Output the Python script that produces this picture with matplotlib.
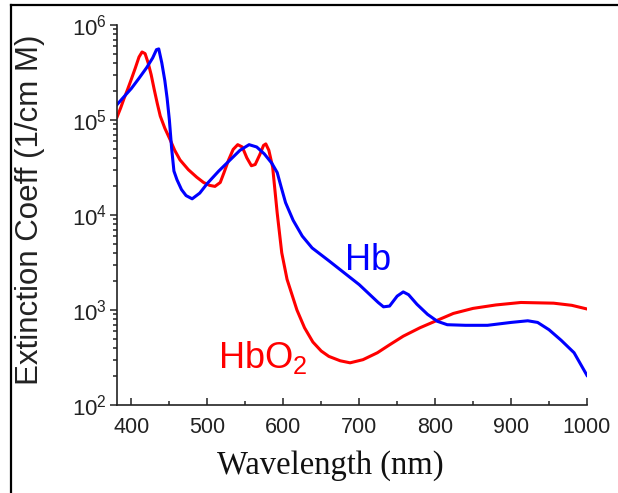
import numpy as np
import matplotlib
matplotlib.use("Agg")
import matplotlib.pyplot as plt
from matplotlib.ticker import LogLocator, MultipleLocator, FixedLocator
from matplotlib.lines import Line2D

# extinction coefficients (1/cm M)
hbo2_nm = [381, 386, 390, 395, 400, 405, 410, 414, 418, 422, 426, 430, 434, 438,
           444, 451, 457, 464, 475, 486, 495, 503, 510, 517, 522, 528, 534, 540,
           546, 552, 558, 563, 569, 574, 577, 581, 586, 592, 598, 605, 618, 628,
           639, 650, 660, 675, 688, 705, 724, 740, 758, 780, 803, 824, 850, 880,
           913, 956, 980, 1000]
hbo2_eps = [1.07e5, 1.35e5, 1.66e5, 2.1e5, 2.7e5, 3.5e5, 4.6e5, 5.2e5, 5.0e5,
            4.0e5, 3.0e5, 2.1e5, 1.5e5, 1.1e5, 8.2e4, 6.2e4, 4.8e4, 3.8e4,
            3.0e4, 2.5e4, 2.2e4, 2.05e4, 2.0e4, 2.2e4, 2.8e4, 3.8e4, 4.9e4,
            5.5e4, 5.2e4, 4.0e4, 3.3e4, 3.4e4, 4.3e4, 5.4e4, 5.6e4, 4.8e4,
            3.2e4, 1.05e4, 4.0e3, 2.1e3, 1.0e3, 650, 460, 370, 325, 292, 278,
            300, 355, 430, 530, 650, 780, 920, 1040, 1130, 1200, 1180, 1120,
            1025]

hb_nm = [381, 390, 400, 410, 420, 428, 433, 436, 440, 444, 447, 450, 453, 456,
         460, 466, 472, 480, 490, 500, 515, 530, 543, 555, 565, 575, 585, 592,
         597, 603, 613, 625, 638, 660, 700, 725, 732, 740, 750, 758, 765, 776,
         790, 803, 816, 840, 869, 900, 922, 935, 950, 966, 983, 1000]
hb_eps = [1.45e5, 1.75e5, 2.15e5, 2.75e5, 3.55e5, 4.5e5, 5.5e5, 5.6e5, 4.0e5,
          2.6e5, 1.7e5, 1.0e5, 5.0e4, 2.9e4, 2.35e4, 1.85e4, 1.6e4, 1.48e4,
          1.7e4, 2.15e4, 2.9e4, 3.8e4, 4.8e4, 5.5e4, 5.2e4, 4.4e4, 3.5e4,
          2.8e4, 2.0e4, 1.35e4, 8.8e3, 6.0e3, 4.5e3, 3.3e3, 1.85e3, 1.2e3,
          1.08e3, 1.1e3, 1.4e3, 1.55e3, 1.45e3, 1.15e3, 900, 760, 700, 690,
          690, 740, 770, 740, 620, 480, 355, 205]

x_ticks = [400, 500, 600, 700, 800, 900, 1000]

plt.rcParams["font.family"] = ["Liberation Sans", "DejaVu Sans"]
plt.rcParams["mathtext.fontset"] = "custom"
plt.rcParams["mathtext.rm"] = "Liberation Sans"
plt.rcParams["mathtext.it"] = "Liberation Sans:italic"
plt.rcParams["mathtext.bf"] = "Liberation Sans:bold"

fig = plt.figure(figsize=(6.18, 4.93), dpi=100)
ax = fig.add_axes([0.1893, 0.1785, 0.7605, 0.7708])

ax.plot(hbo2_nm, hbo2_eps, color="#ff0000", lw=2.2, solid_joinstyle="round")
ax.plot(hb_nm, hb_eps, color="#0000ff", lw=2.2, solid_joinstyle="round")

ax.set_yscale("log")
ax.set_xlim(381, 1000)
ax.set_ylim(1e2, 1e6)

ax.xaxis.set_major_locator(FixedLocator(x_ticks))
ax.xaxis.set_minor_locator(MultipleLocator(50))
ax.yaxis.set_major_locator(LogLocator(base=10, numticks=10))
ax.yaxis.set_minor_locator(LogLocator(base=10, subs=np.arange(2, 10), numticks=10))

for s in ["top", "right"]:
    ax.spines[s].set_visible(False)
for s in ["left", "bottom"]:
    ax.spines[s].set_linewidth(1.2)
    ax.spines[s].set_color("#222222")

ax.tick_params(axis="x", which="major", direction="in", length=5, width=1.1,
               labelsize=15.5, pad=9, colors="#222222")
ax.tick_params(axis="x", which="minor", direction="in", length=3, width=1.1,
               colors="#222222")
ax.tick_params(axis="y", which="major", direction="out", length=5, width=1.1,
               labelsize=16, pad=2, colors="#222222")
ax.tick_params(axis="y", which="minor", direction="out", length=3, width=1.1,
               colors="#222222")

ax.text(681, 2630, "Hb", color="#0000ff", fontsize=26, va="baseline")
ax.text(514, 245, r"HbO$_2$", color="#ff0000", fontsize=26, va="baseline")

fig.text(0.0485, 0.574, "Extinction Coeff (1/cm M)", rotation=90,
         ha="center", va="center", fontsize=22.5, color="#222222")
fig.text(0.534, 0.055, "Wavelength (nm)", ha="center", va="center",
         fontsize=23.5, family=["Liberation Serif", "DejaVu Serif"], color="#111111")

# frame lines at top and left of the picture
fig.add_artist(Line2D([11 / 618, 1.0], [1 - 5 / 493, 1 - 5 / 493],
                      transform=fig.transFigure, color="black", lw=1.6))
fig.add_artist(Line2D([11 / 618, 11 / 618], [0.0, 1 - 5 / 493],
                      transform=fig.transFigure, color="black", lw=1.6))

fig.savefig("out.png", dpi=100)
